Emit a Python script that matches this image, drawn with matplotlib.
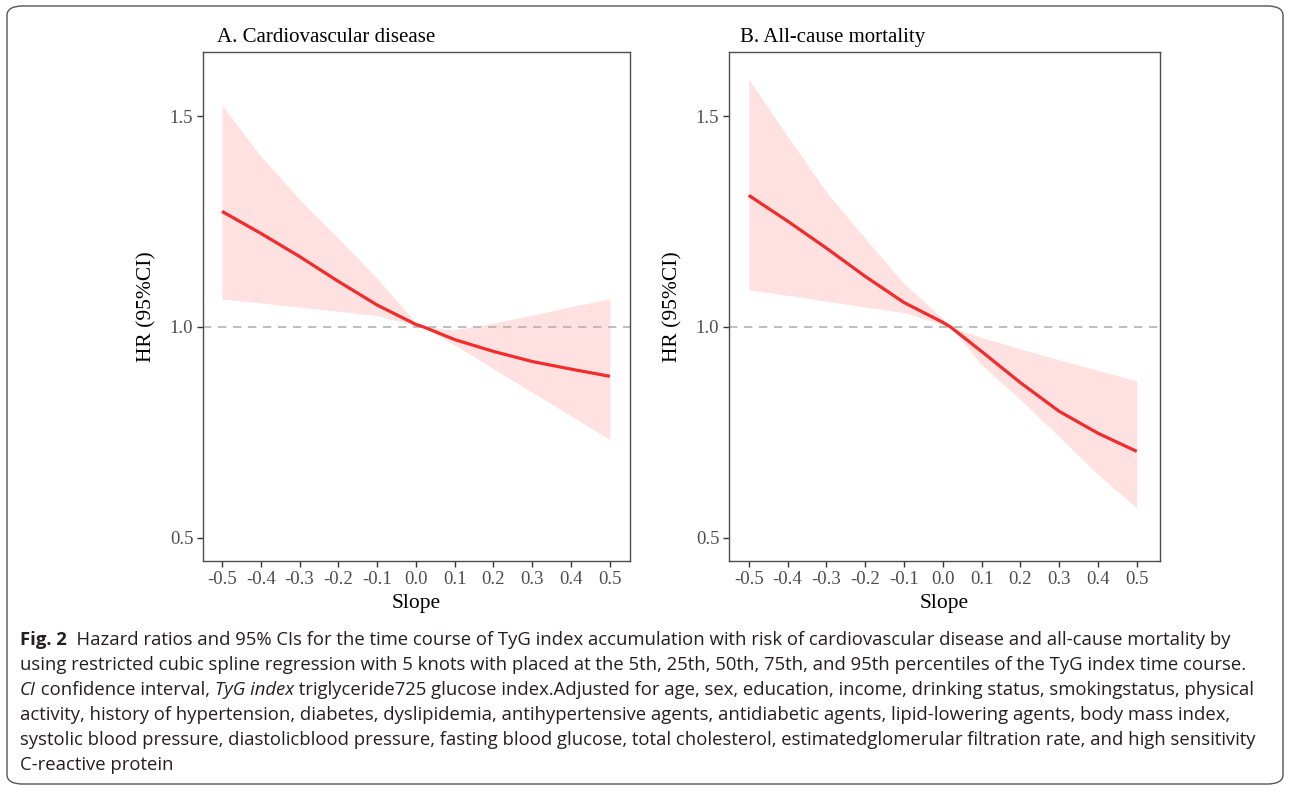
import matplotlib
matplotlib.use("Agg")
import matplotlib.pyplot as plt
from matplotlib.patches import FancyBboxPatch

# data
slope = [-0.5, -0.4, -0.3, -0.2, -0.1, 0.0, 0.02, 0.1, 0.2, 0.3, 0.4, 0.5]

cvd_hr = [1.274, 1.222, 1.167, 1.108, 1.052, 1.006, 1.0, 0.970, 0.942, 0.918, 0.900, 0.883]
cvd_upper = [1.526, 1.405, 1.302, 1.210, 1.115, 1.010, 1.0, 0.993, 1.009, 1.028, 1.048, 1.067]
cvd_lower = [1.066, 1.057, 1.047, 1.037, 1.027, 1.003, 1.0, 0.957, 0.901, 0.845, 0.789, 0.733]

mort_hr = [1.312, 1.251, 1.187, 1.120, 1.058, 1.011, 1.0, 0.942, 0.868, 0.800, 0.748, 0.705]
mort_upper = [1.588, 1.452, 1.320, 1.210, 1.103, 1.020, 1.0, 0.975, 0.948, 0.922, 0.897, 0.872]
mort_lower = [1.088, 1.075, 1.061, 1.047, 1.034, 1.005, 1.0, 0.910, 0.828, 0.740, 0.650, 0.571]

panel_titles = ["A. Cardiovascular disease", "B. All-cause mortality"]
x_ticks = [-0.5, -0.4, -0.3, -0.2, -0.1, 0.0, 0.1, 0.2, 0.3, 0.4, 0.5]
y_ticks = [0.5, 1.0, 1.5]

caption_lines = [
    [("Fig. 2", "bold", "normal"),
     ("  Hazard ratios and 95% CIs for the time course of TyG index accumulation with risk of "
      "cardiovascular disease and all-cause mortality by", "normal", "normal")],
    [("using restricted cubic spline regression with 5 knots with placed at the 5th, 25th, 50th, "
      "75th, and 95th percentiles of the TyG index time course.", "normal", "normal")],
    [("CI", "normal", "italic"), (" confidence interval, ", "normal", "normal"),
     ("TyG index", "normal", "italic"),
     (" triglyceride725 glucose index.Adjusted for age, sex, education, income, drinking status, "
      "smokingstatus, physical", "normal", "normal")],
    [("activity, history of hypertension, diabetes, dyslipidemia, antihypertensive agents, "
      "antidiabetic agents, lipid-lowering agents, body mass index,", "normal", "normal")],
    [("systolic blood pressure, diastolicblood pressure, fasting blood glucose, total cholesterol, "
      "estimatedglomerular filtration rate, and high sensitivity", "normal", "normal")],
    [("C-reactive protein", "normal", "normal")],
]

W, H = 1290, 792
fig = plt.figure(figsize=(W / 100, H / 100), dpi=100)

serif = ["Liberation Serif", "DejaVu Serif"]
sans = ["Open Sans", "DejaVu Sans"]

# rounded frame around figure + caption
frame = FancyBboxPatch((7 / W, 8 / H), 1276 / W, 778 / H,
                       boxstyle="round,pad=0,rounding_size=0.012",
                       transform=fig.transFigure, facecolor="none",
                       edgecolor="#555555", linewidth=1.0)
fig.patches.append(frame)

panels = [
    (203, 630, (-0.549, 0.552), cvd_hr, cvd_upper, cvd_lower, 217),
    (729, 1160, (-0.551, 0.560), mort_hr, mort_upper, mort_lower, 740),
]
top, bottom = 52, 561

for i, (x0, x1, xlim, hr, up, lo, tx) in enumerate(panels):
    ax = fig.add_axes([x0 / W, 1 - bottom / H, (x1 - x0) / W, (bottom - top) / H])
    ax.fill_between(slope, lo, up, color="#FFE1E1", linewidth=0)
    ax.axhline(1.0, color="#B3B3B3", linestyle=(0, (5, 4)), linewidth=1.2)
    ax.plot(slope, hr, color="#F22B2B", linewidth=2.3, solid_capstyle="butt")
    ax.set_xlim(*xlim)
    ax.set_ylim(0.445, 1.652)
    ax.set_xticks(x_ticks)
    ax.set_xticklabels([f"{v:.1f}" for v in x_ticks])
    ax.set_yticks(y_ticks)
    ax.set_yticklabels([f"{v:.1f}" for v in y_ticks])
    for s in ax.spines.values():
        s.set_color("#4D4D4D")
        s.set_linewidth(1.0)
    ax.tick_params(length=4, width=1, color="#333333", labelcolor="#4D4D4D",
                   labelsize=13.5, pad=3)
    for lab in ax.get_xticklabels() + ax.get_yticklabels():
        lab.set_family(serif)
    ax.set_xlabel("Slope", family=serif, fontsize=15.5, color="black")
    ax.set_ylabel("HR (95%CI)", family=serif, fontsize=15.5, color="black")
    ax.xaxis.set_label_coords(0.5, -0.065)
    ax.yaxis.set_label_coords(-0.108, 0.5)
    fig.text(tx / W, 1 - 42 / H, panel_titles[i], family=serif, fontsize=15,
             color="black", ha="left", va="baseline")

# caption, drawn run by run so bold/italic parts sit inline
renderer = fig.canvas.get_renderer()
line_y = [640, 665, 690, 715, 740, 765]
for runs, yy in zip(caption_lines, line_y):
    xx = 20 / W
    for txt, weight, style in runs:
        t = fig.text(xx, 1 - yy / H, txt, family=sans, fontsize=13.3, weight=weight,
                     style=style, color="#231F20", ha="left", va="center")
        bb = t.get_window_extent(renderer)
        xx += bb.width / W

fig.savefig("out.png", dpi=100)
